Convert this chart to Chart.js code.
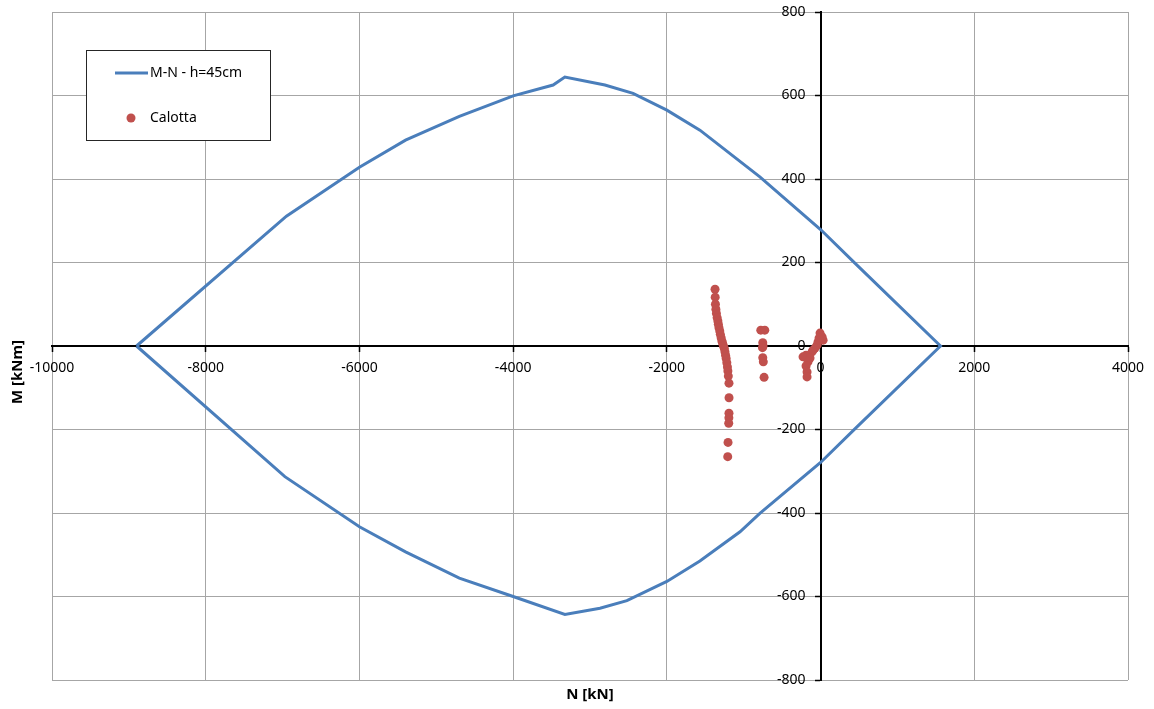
<!DOCTYPE html>
<html>
<head>
<meta charset="utf-8">
<script src="https://cdn.jsdelivr.net/npm/chart.js@4.4.0/dist/chart.umd.min.js"></script>
<style>
html,body{margin:0;padding:0;background:#fff;}
#wrap{width:1154px;height:709px;position:relative;}
</style>
</head>
<body>
<div id="wrap"><canvas id="c" width="1154" height="709"></canvas></div>
<script>
// Interaction domain M-N (upper branch left->right, then lower branch right->left)
const curveN = [-8900,-6950,-6000,-5400,-4700,-4000,-3480,-3327,-2806,-2440,-2000,-1570,-790,0,450,1560,
                450,0,-790,-1048,-1570,-2000,-2520,-2870,-3327,-4000,-4700,-5400,-6000,-6970,-8900];
const curveM = [0,311,428,493,550,599,625,644,625,605,565,517,405,279,198,0,
                -198,-279,-401,-445,-515,-564,-610,-628,-643,-600,-556,-493,-433,-313,0];

// Calotta load points
const calottaN = [-1373,-1371,-1368,-1362,-1355,-1346,-1336,-1330,-1322,-1312,-1304,-1294,-1284,-1274,-1264,-1252,-1244,-1236,-1228,-1220,-1212,-1206,-1200,-1192,-1191,-1192,-1193,-1195,-1204,-1208,
                  -778,-726,-752,-748,-756,-752,-745,-735,
                  -7,20,33,-33,-20,-46,-72,-98,-111,-189,-228,-137,-163,-189,-176,-176];
const calottaM = [136,117,100,88,78,68,60,52,44,36,28,20,12,6,0,-6,-14,-22,-30,-40,-50,-60,-72,-89,-124,-161,-172,-185,-231,-265,
                  38,38,8,0,-4,-28,-38,-75,
                  31,22,14,10,19,2,-5,-10,-14,-22,-26,-29,-38,-48,-62,-74];

const xMin = -10000, xMax = 4000, xStep = 2000;
const yMin = -800, yMax = 800, yStep = 200;
const seriesNames = ['M-N - h=45cm', 'Calotta'];
const axisTitles = {x: 'N [kN]', y: 'M [kNm]'};

const lineColor = '#4a7ebb';
const dotColor = '#c0504d';
const FONT = "'Noto Sans', 'Open Sans', sans-serif";
const Y_LABEL_GAP = 15;

const extrasPlugin = {
  id: 'extras',
  beforeDraw(chart) {
    // y axis crossing at x=0: move its tick labels left of the tick marks
    const ys = chart.scales.y;
    const items = ys.getLabelItems(chart.chartArea);
    items.forEach(it => { it.options.translation[0] -= Y_LABEL_GAP; });
  },
  afterDraw(chart) {
    const ctx = chart.ctx;
    ctx.save();
    // Axis titles
    ctx.fillStyle = '#000';
    ctx.font = "bold 15px " + FONT;
    ctx.textAlign = 'center';
    ctx.textBaseline = 'middle';
    ctx.fillText(axisTitles.x, 590, 695);
    ctx.translate(18, 372);
    ctx.rotate(-Math.PI / 2);
    ctx.fillText(axisTitles.y, 0, 0);
    ctx.restore();

    // Legend
    ctx.save();
    ctx.fillStyle = '#fff';
    ctx.fillRect(86.5, 50.5, 184, 90);
    ctx.strokeStyle = '#262626';
    ctx.lineWidth = 1;
    ctx.strokeRect(86.5, 50.5, 184, 90);
    ctx.strokeStyle = lineColor;
    ctx.lineWidth = 3;
    ctx.beginPath();
    ctx.moveTo(115, 73);
    ctx.lineTo(148, 73);
    ctx.stroke();
    ctx.fillStyle = dotColor;
    ctx.beginPath();
    ctx.arc(131, 118, 4.5, 0, Math.PI * 2);
    ctx.fill();
    ctx.fillStyle = '#000';
    ctx.font = "14px " + FONT;
    ctx.textAlign = 'left';
    ctx.textBaseline = 'middle';
    ctx.fillText(seriesNames[0], 150, 73);
    ctx.fillText(seriesNames[1], 150, 118);
    ctx.restore();
  }
};

const curveData = curveN.map((n, i) => ({x: n, y: curveM[i]}));
const calottaData = calottaN.map((n, i) => ({x: n, y: calottaM[i]}));
const plainTick = v => String(v);
const noPad = s => { s.paddingTop = 0; s.paddingBottom = 0; s.paddingLeft = 0; s.paddingRight = 0; };

new Chart(document.getElementById('c'), {
  type: 'scatter',
  data: {
    datasets: [
      {
        label: seriesNames[1],
        data: calottaData,
        backgroundColor: dotColor,
        borderColor: dotColor,
        pointRadius: 4.5,
        pointBorderWidth: 0,
        order: 1
      },
      {
        label: seriesNames[0],
        data: curveData,
        showLine: true,
        borderColor: lineColor,
        backgroundColor: lineColor,
        borderWidth: 3,
        pointRadius: 0,
        tension: 0,
        fill: false,
        order: 2
      }
    ]
  },
  options: {
    responsive: false,
    animation: false,
    devicePixelRatio: 1,
    layout: {padding: {left: 52, right: 26, top: 12, bottom: 29}},
    plugins: {
      legend: {display: false},
      tooltip: {enabled: false},
      title: {display: false}
    },
    scales: {
      x: {
        type: 'linear',
        min: xMin, max: xMax,
        position: {y: 0},
        afterFit: noPad,
        ticks: {stepSize: xStep, color: '#000', font: {family: FONT, size: 14}, padding: 9, maxRotation: 0, callback: plainTick},
        grid: {color: '#a6a6a6', lineWidth: 1, tickColor: '#000', tickLength: 5, tickWidth: 1.5},
        border: {color: '#000', width: 2}
      },
      y: {
        type: 'linear',
        min: yMin, max: yMax,
        position: {x: 0},
        afterFit: noPad,
        ticks: {stepSize: yStep, color: '#000', font: {family: FONT, size: 14}, padding: 10, callback: plainTick},
        grid: {color: '#a6a6a6', lineWidth: 1, tickColor: '#000', tickLength: 5, tickWidth: 1.5},
        border: {color: '#000', width: 2}
      }
    }
  },
  plugins: [extrasPlugin]
});
</script>
</body>
</html>
